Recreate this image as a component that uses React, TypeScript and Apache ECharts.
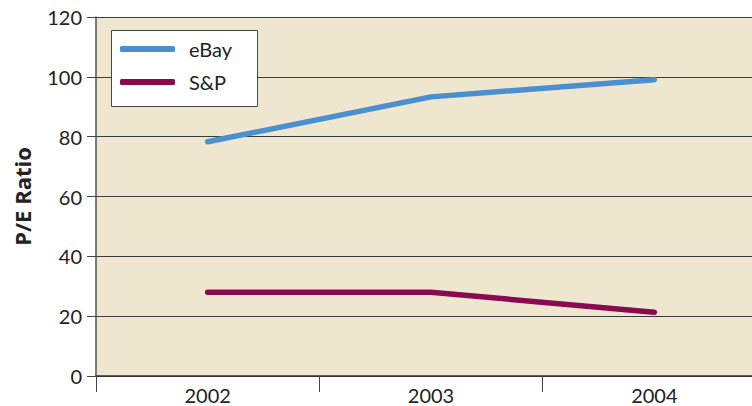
import React, { useEffect, useRef } from "react";
import * as echarts from "echarts";

const years = ["2002", "2003", "2004"];
const ebay = [78.3, 93.3, 99];
const sp = [28, 28, 21.3];
const yTicks = { min: 0, max: 120, interval: 20 };

export default function App() {
  const ref = useRef<HTMLDivElement>(null);
  useEffect(() => {
    document.body.style.margin = "0";
    document.body.style.overflow = "hidden";
    const chart = echarts.init(ref.current!, null, { renderer: "svg" });
    const font = "Lato, 'Open Sans', sans-serif";
    chart.setOption({
      animation: false,
      textStyle: { fontFamily: font },
      grid: {
        left: 96,
        top: 17,
        width: 670,
        height: 359,
        show: true,
        backgroundColor: "#efe6cf",
        borderWidth: 0,
      },
      graphic: [
        {
          type: "rect",
          z: 50,
          shape: { x: 111.5, y: 30.5, width: 146, height: 76 },
          style: { fill: "#ffffff", stroke: "#444", lineWidth: 1 },
        },
      ],
      legend: {
        orient: "vertical",
        left: 115,
        top: 34,
        z: 60,
        padding: [5, 5, 5, 5],
        itemWidth: 55,
        itemHeight: 6,
        itemGap: 13,
        icon: "roundRect",
        textStyle: { fontSize: 20, color: "#222", fontFamily: font, padding: [0, 0, 0, 9] },
        data: ["eBay", "S&P"],
      },
      xAxis: {
        type: "category",
        data: years,
        boundaryGap: true,
        axisLine: { lineStyle: { color: "#333", width: 1.5 } },
        axisTick: { show: true, length: 16, lineStyle: { color: "#444", width: 1 } },
        axisLabel: { fontSize: 20, color: "#222", margin: 9, fontFamily: font },
        splitLine: { show: false },
      },
      yAxis: {
        type: "value",
        min: yTicks.min,
        max: yTicks.max,
        interval: yTicks.interval,
        name: "P/E Ratio",
        nameLocation: "middle",
        nameGap: 63,
        nameRotate: 90,
        nameTextStyle: { fontSize: 22, fontWeight: "bold", color: "#222", fontFamily: "'Open Sans', Lato, sans-serif" },
        axisLine: { show: true, lineStyle: { color: "#555", width: 1.5 } },
        axisTick: { show: true, length: 9, lineStyle: { color: "#444" } },
        axisLabel: { fontSize: 20, color: "#222", margin: 14, fontFamily: font },
        splitLine: { show: true, lineStyle: { color: "#3a3a3a", width: 1.2 } },
      },
      series: [
        {
          name: "eBay",
          type: "line",
          data: ebay,
          symbol: "none",
          color: "#4a8fd0",
          lineStyle: { width: 5.5, color: "#4a8fd0", cap: "round", join: "round" },
        },
        {
          name: "S&P",
          type: "line",
          data: sp,
          symbol: "none",
          color: "#8a0a50",
          lineStyle: { width: 5.5, color: "#8a0a50", cap: "round", join: "round" },
        },
      ],
    });
    return () => chart.dispose();
  }, []);
  return (
    <div
      ref={ref}
      style={{ position: "absolute", left: 0, top: 0, width: 770, height: 406, background: "#fff" }}
    />
  );
}
